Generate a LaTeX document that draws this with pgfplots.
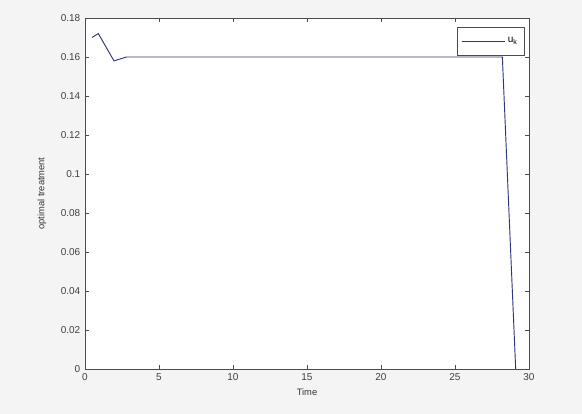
\documentclass[border=0pt]{standalone}
\usepackage{pgfplots}
\pgfplotsset{compat=1.18}
\usepackage{fontspec}
\setmainfont{Liberation Sans}
\definecolor{bgc}{RGB}{244,244,244}
\definecolor{linec}{RGB}{45,55,125}
\begin{document}
\begin{tikzpicture}
\fill[bgc] (0,0) rectangle (436.5pt,310.5pt);
\useasboundingbox (0,0) rectangle (436.5pt,310.5pt);
\begin{axis}[
  at={(63.75pt,33.75pt)}, anchor=south west,
  width=333pt, height=263.25pt, scale only axis,
  xmin=0, xmax=30, ymin=0, ymax=0.18,
  xtick={0,5,...,30},
  ytick={0,0.02,0.04,0.06,0.08,0.1,0.12,0.14,0.16,0.18},
  yticklabel style={/pgf/number format/fixed, /pgf/number format/precision=2},
  scaled y ticks=false,
  tick align=inside, tick pos=both,
  major tick length=3pt,
  axis line style={black!70, line width=0.6pt},
  tick style={black!70},
  axis background/.style={fill=white},
  tick label style={font=\fontsize{7.5}{9}\selectfont, text=black!75},
  /pgf/number format/assume math mode=true,
  xlabel={Time}, ylabel={optimal treatment},
  label style={font=\fontsize{7}{8.5}\selectfont, text=black!80},
  xlabel style={yshift=1pt},
  ylabel style={yshift=4pt},
  legend style={at={(0.99,0.975)}, anchor=north east, draw=black!70, fill=white,
    font=\fontsize{7.5}{9}\selectfont, inner xsep=3pt, inner ysep=6pt},
  legend cell align=left,
  legend image post style={xscale=1.9},
]
\addplot[linec, line width=0.7pt] coordinates {
 (0.47,0.170) (0.9,0.172) (1.96,0.158) (2.8,0.160) (28.2,0.160) (29.1,0)
};
\addlegendentry{u\textsubscript{k}}
\end{axis}
\end{tikzpicture}
\end{document}
